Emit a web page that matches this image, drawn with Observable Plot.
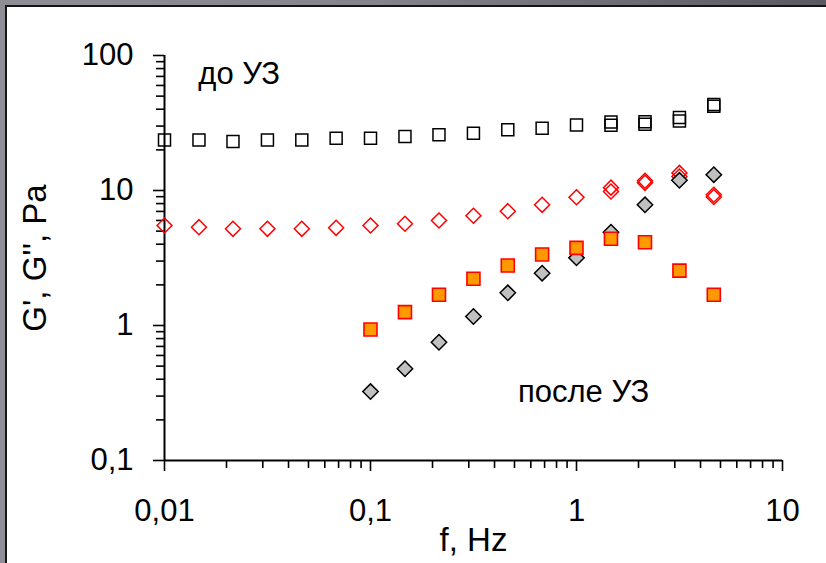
<!DOCTYPE html>
<html><head><meta charset="utf-8">
<script src="https://cdn.jsdelivr.net/npm/d3@7"></script>
<script src="https://cdn.jsdelivr.net/npm/@observablehq/plot@0.6"></script>
<style>
html,body{margin:0;padding:0;width:826px;height:563px;overflow:hidden;}
body{background:linear-gradient(to right,#8f8e94 0%,#85848a 45%,#5a5960 100%);position:relative;font-family:"Liberation Sans",Arial,sans-serif;}
#panel{position:absolute;left:5px;top:5px;right:0;bottom:0;background:#fff;border-left:2px solid #151515;border-top:2px solid #151515;}
#chart{position:absolute;left:0;top:0;}
</style></head><body><div id="panel"></div><div id="chart"></div>
<script>
// frequencies, Hz
const freqBefore = [0.01, 0.0147, 0.0215, 0.0316, 0.0464, 0.0681, 0.1, 0.147, 0.215, 0.316, 0.464, 0.681, 1, 1.47, 2.15, 3.16, 4.64];
const freqAfter = [0.1, 0.147, 0.215, 0.316, 0.464, 0.681, 1, 1.47, 2.15, 3.16, 4.64];
const freqRepeat = [1.47, 2.15, 3.16, 4.64];

// до УЗ (before ultrasound)
const gPrimeBefore = [23.7, 23.7, 23.1, 23.7, 23.7, 24.4, 24.4, 25.1, 25.9, 26.6, 28.2, 28.9, 30.5, 30.4, 31.0, 32.7, 42.0];
const gPrimeBeforeRepeat = [32.2, 32.3, 34.7, 43.4];
const gDoubleBefore = [5.51, 5.35, 5.2, 5.2, 5.2, 5.29, 5.51, 5.67, 5.99, 6.5, 7.03, 7.83, 8.92, 9.84, 11.4, 12.7, 8.95];
const gDoubleBeforeRepeat = [10.5, 11.8, 13.5, 9.3];

// после УЗ (after ultrasound)
const orangeAfter = [0.934, 1.256, 1.69, 2.22, 2.78, 3.36, 3.76, 4.39, 4.14, 2.55, 1.69];
const grayAfter = [0.324, 0.478, 0.752, 1.166, 1.746, 2.44, 3.17, 4.91, 7.83, 11.9, 13.1];

// axis ticks
const xMajor = [0.01, 0.1, 1, 10];
const yMajor = [0.1, 1, 10, 100];
const mult = [2, 3, 4, 5, 6, 7, 8, 9];
const xMinor = [0.01, 0.1, 1].flatMap(d => mult.map(m => +(d * m).toPrecision(3)));
const yMinor = [0.1, 1, 10].flatMap(d => mult.map(m => +(d * m).toPrecision(3)));

// annotations
const annText = ["до УЗ", "после УЗ"];
const annX = [0.0146, 0.52];
const annY = [62, 0.273];

const fmt = d => String(d).replace(".", ",");

const sq = {draw(ctx, size) { const r = Math.sqrt(size / Math.PI); ctx.rect(-r, -r, 2 * r, 2 * r); }};
const dm = {draw(ctx, size) { const r = Math.sqrt(size / Math.PI); ctx.moveTo(0, -r); ctx.lineTo(r, 0); ctx.lineTo(0, r); ctx.lineTo(-r, 0); ctx.closePath(); }};

const font = "'Liberation Sans', Arial, sans-serif";

const chart = Plot.plot({
  width: 826, height: 563,
  marginLeft: 164, marginRight: 44, marginTop: 55, marginBottom: 103,
  x: {type: "log", domain: [0.01, 10], label: null},
  y: {type: "log", domain: [0.1, 100], label: null},
  style: {background: "transparent", fontFamily: font, color: "#000", overflow: "visible"},
  marks: [
    Plot.axisX({ticks: xMajor, tickSize: 11, tickPadding: 27, tickFormat: fmt, fontSize: 31, strokeWidth: 1.6, label: null}),
    Plot.axisX({ticks: xMinor, tickSize: 8, tickFormat: () => "", strokeWidth: 1.6, label: null}),
    Plot.axisY({ticks: yMajor, tickSize: 11, tickPadding: 20, tickFormat: fmt, fontSize: 31, strokeWidth: 1.6, label: null}),
    Plot.axisY({ticks: yMinor, tickSize: 8, tickFormat: () => "", strokeWidth: 1.6, label: null}),
    Plot.ruleX([0.01], {strokeWidth: 2, stroke: "#000"}),
    Plot.ruleY([0.1], {strokeWidth: 2, stroke: "#000"}),
    Plot.text(["G', G'', Pa"], {text: d => d, frameAnchor: "left", rotate: -90, dx: -119, lineAnchor: "bottom", textAnchor: "middle", fontSize: 33}),
    Plot.text(["f, Hz"], {text: d => d, frameAnchor: "bottom", dy: 90, lineAnchor: "bottom", textAnchor: "middle", fontSize: 33}),
    Plot.text(annText, {text: d => d, x: (d, i) => annX[i], y: (d, i) => annY[i], textAnchor: "start", lineAnchor: "bottom", fontSize: 31}),
    Plot.dot(freqBefore, {x: d => d, y: (d, i) => gPrimeBefore[i], symbol: sq, r: 6, fill: "none", stroke: "#000", strokeWidth: 1.5}),
    Plot.dot(freqRepeat, {x: d => d, y: (d, i) => gPrimeBeforeRepeat[i], symbol: sq, r: 6, fill: "none", stroke: "#000", strokeWidth: 1.5}),
    Plot.dot(freqBefore, {x: d => d, y: (d, i) => gDoubleBefore[i], symbol: dm, r: 7.5, fill: "none", stroke: "#ff0000", strokeWidth: 1.5}),
    Plot.dot(freqRepeat, {x: d => d, y: (d, i) => gDoubleBeforeRepeat[i], symbol: dm, r: 7.5, fill: "none", stroke: "#ff0000", strokeWidth: 1.5}),
    Plot.dot(freqAfter, {x: d => d, y: (d, i) => grayAfter[i], symbol: dm, r: 7.7, fill: "#c0c0c0", stroke: "#000", strokeWidth: 1.5}),
    Plot.dot(freqAfter, {x: d => d, y: (d, i) => orangeAfter[i], symbol: sq, r: 6.5, fill: "#ff9900", stroke: "#ff0000", strokeWidth: 1.6})
  ]
});
document.getElementById("chart").appendChild(chart);
</script>
</body></html>
